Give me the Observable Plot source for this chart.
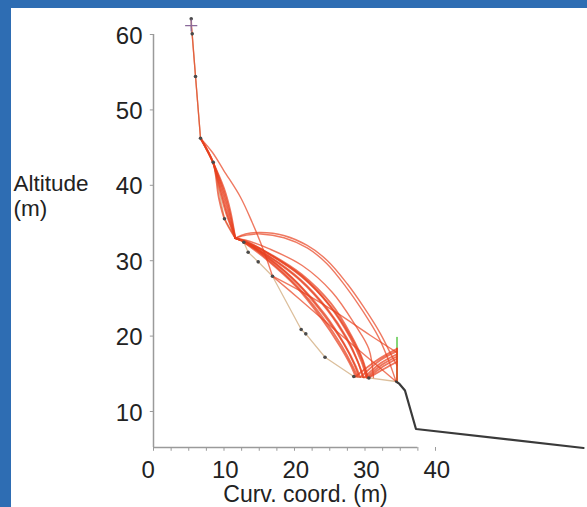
<!DOCTYPE html>
<html>
<head>
<meta charset="utf-8">
<script src="https://cdn.jsdelivr.net/npm/d3@7"></script>
<script src="https://cdn.jsdelivr.net/npm/@observablehq/plot@0.6"></script>
<style>
  html, body { margin: 0; padding: 0; background: #2e6db3; }
  #frame { position: absolute; left: 11px; top: 8px; width: 576px; height: 499px; background: #fff; overflow: hidden; }
</style>
</head>
<body>
<div id="frame"></div>
<script>
// ---- axis ticks ----
const xTicks = [0, 10, 20, 30, 40];
const xMinorTicks = [0, 2.5, 5, 7.5, 10, 12.5, 15, 17.5, 20, 22.5, 25, 27.5, 30, 32.5, 35, 37.5, 40];
const yTicks = [10, 20, 30, 40, 50, 60];
const xAxisExtent = [0, 37.5];
const yAxisExtent = [5.225, 60];

// ---- slope profile (curvilinear coordinate, altitude) ----
const terrainProfile = [
  [5.35, 62.08], [5.35, 61.19], [5.49, 60.09], [5.96, 54.43], [6.67, 46.25],
  [8.47, 43.06], [10.07, 35.56], [11.6, 33.0], [12.81, 32.45], [13.43, 31.13],
  [14.85, 29.85], [16.88, 27.94], [20.95, 20.88], [21.60, 20.30], [24.33, 17.20],
  [28.41, 14.64], [30.55, 14.45], [34.40, 13.98]
];
const profileNodes = [
  [5.35, 62.08], [5.49, 60.09], [5.96, 54.43], [6.67, 46.25], [8.47, 43.06],
  [10.07, 35.56], [12.81, 32.45], [13.43, 31.13], [14.85, 29.85], [16.88, 27.94],
  [20.95, 20.88], [21.60, 20.30], [24.33, 17.20], [28.41, 14.64], [30.55, 14.45]
];
const startMarker = [[5.35, 61.19]];
const lowerProfile = [[34.40, 13.98], [34.89, 13.65], [35.67, 12.79], [37.23, 7.68], [61.0, 5.16]];
const barrier = [[34.54, 13.98], [34.54, 19.81]];

// ---- rockfall trajectories ----
const trajTop1 = [[5.35, 62.08], [5.49, 60.09], [5.96, 54.43], [6.67, 46.25]];
const trajTop2 = [[5.35, 61.19], [5.52, 59.4], [5.99, 54.1], [6.67, 46.25]];
const wedge1 = [[6.67, 46.25], [8.47, 42.98], [9.26, 38.37], [10.07, 35.56], [11.6, 33.0]];
const wedge2 = [[6.67, 46.25], [8.47, 42.98], [9.45, 39.2], [10.3, 36.3], [11.6, 33.0]];
const wedge3 = [[6.67, 46.25], [8.47, 42.98], [9.7, 39.5], [10.6, 36.5], [11.6, 33.0]];
const wedge4 = [[6.67, 46.25], [8.47, 42.98], [10.0, 39.6], [10.9, 36.6], [11.6, 33.0]];
const wedge5 = [[8.47, 42.98], [9.8, 39.7], [10.75, 36.6], [11.6, 33.0]];
const wedge6 = [[8.47, 42.98], [9.55, 39.4], [10.45, 36.3], [11.6, 33.0]];
const longJump = [[6.67, 46.25], [8.37, 44.35], [9.97, 41.96], [12.34, 38.42], [14.0, 35.07], [15.18, 32.41], [16.03, 30.29], [16.88, 27.94]];
const arcHigh1 = [[11.6, 33.0], [13.05, 33.54], [15.18, 33.74], [18.48, 33.34], [21.8, 32.02], [24.64, 30.03], [27.48, 26.94], [29.83, 23.83], [32.2, 20.3], [33.62, 17.69], [34.54, 16.1]];
const arcHigh2 = [[11.6, 33.0], [13.2, 33.4], [15.2, 33.55], [18.5, 33.05], [21.8, 31.7], [24.6, 29.6], [27.4, 26.4], [29.7, 23.3], [31.9, 19.9], [33.3, 16.9], [34.4, 13.98]];
const bundle1 = [[11.6, 33.0], [13.0, 32.75], [16.35, 31.6], [21.09, 29.36], [25.35, 25.82], [28.65, 21.41], [30.54, 18.31], [31.2, 14.5]];
const bundle2 = [[11.6, 33.0], [13.0, 32.55], [16.35, 31.0], [21.0, 28.2], [25.2, 24.3], [28.1, 20.0], [29.7, 16.8], [30.4, 14.5]];
const bundle3 = [[11.6, 33.0], [13.0, 32.5], [16.35, 30.9], [21.0, 28.0], [25.0, 24.0], [27.9, 19.8], [29.5, 16.6], [30.2, 14.5]];
const bundle4 = [[11.6, 33.0], [13.05, 32.45], [16.3, 30.6], [20.8, 27.4], [24.7, 23.4], [27.5, 19.4], [29.1, 16.3], [29.8, 14.52]];
const bundle5 = [[11.6, 33.0], [13.05, 32.45], [16.3, 30.4], [20.6, 26.9], [24.3, 22.9], [27.1, 18.9], [28.7, 16.0], [29.3, 14.56]];
const bundle6 = [[11.6, 33.0], [13.05, 32.45], [16.2, 30.2], [20.4, 26.6], [23.9, 22.6], [26.7, 18.7], [28.3, 15.9], [28.9, 14.6]];
const bundle7 = [[12.81, 32.45], [16.0, 30.2], [20.3, 26.5], [23.7, 22.5], [26.5, 18.6], [28.1, 15.9], [28.65, 14.64]];
const bundle8 = [[12.81, 32.45], [16.2, 30.4], [20.5, 26.9], [24.0, 23.0], [26.9, 19.1], [28.5, 16.2], [29.1, 14.6]];
const bundle9 = [[12.81, 32.45], [16.4, 30.6], [20.85, 27.5], [24.6, 23.7], [27.4, 19.8], [29.0, 16.6], [29.7, 14.55]];
const bundle10 = [[11.6, 33.0], [13.1, 32.6], [16.4, 30.9], [21.0, 27.9], [25.1, 24.0], [28.0, 19.9], [29.6, 16.8], [30.3, 14.5]];
const bounceToVertex = [[16.88, 27.94], [20.85, 24.8], [25.11, 21.34], [29.36, 17.96], [34.4, 13.98]];
const bounceToBarrier = [[16.88, 27.94], [21.13, 25.82], [25.85, 23.17], [30.78, 20.08], [34.54, 17.82]];
const rebound1 = [[28.65, 14.64], [31.7, 16.8], [34.54, 18.3]];
const rebound2 = [[29.4, 14.58], [32.0, 16.7], [34.54, 18.0]];
const rebound3 = [[29.9, 14.52], [32.2, 16.4], [34.54, 17.6]];
const rebound4 = [[30.21, 14.51], [32.4, 16.2], [34.54, 17.3]];
const rebound5 = [[30.45, 14.5], [32.6, 16.0], [34.54, 17.0]];
const rebound6 = [[30.6, 14.5], [32.8, 15.7], [34.54, 16.6]];
const barrierImpact = [[34.54, 18.36], [34.54, 13.98]];

const topTrajectories = [trajTop1, trajTop2];
const denseTrajectories = [
  wedge1, wedge2, wedge3, wedge4, wedge5, wedge6,
  bundle2, bundle3, bundle4, bundle5, bundle6, bundle7, bundle8, bundle9, bundle10,
  rebound1, rebound2, rebound3, rebound4, rebound5, rebound6
];
const sparseTrajectories = [longJump, arcHigh1, arcHigh2, bundle1, bounceToVertex, bounceToBarrier];
const toRows = list => list.flatMap((t, i) => t.map(([x, y]) => ({x, y, id: i})));

const font = "'Liberation Sans', Arial, Helvetica, sans-serif";
const ink = "#222";
const red = "#e8401e";

const chart = Plot.plot({
  width: 576,
  height: 499,
  marginLeft: 142,
  marginRight: 0,
  marginTop: 0,
  marginBottom: 60,
  style: {background: "white", fontFamily: font, overflow: "visible"},
  x: {domain: [0, 61.56], axis: null},
  y: {domain: [5.225, 63.45], axis: null},
  marks: [
    // axes
    Plot.ruleX([0], {y1: yAxisExtent[0], y2: yAxisExtent[1], stroke: "#9a9a9a", strokeWidth: 1.5}),
    Plot.ruleY([yAxisExtent[0]], {x1: xAxisExtent[0], x2: xAxisExtent[1], stroke: "#9a9a9a", strokeWidth: 1.5}),
    Plot.ruleX(xMinorTicks, {x: d => d, y1: yAxisExtent[0], y2: yAxisExtent[0] - 0.5, stroke: "#9a9a9a", strokeWidth: 1}),
    Plot.ruleY(yTicks, {y: d => d, x1: 0, x2: -0.45, stroke: "#9a9a9a", strokeWidth: 1}),
    Plot.text(xTicks, {x: d => d, y: yAxisExtent[0], text: d => String(d), textAnchor: "start", lineAnchor: "bottom", dx: -12, dy: 30, fontSize: 24, fill: ink}),
    Plot.text(yTicks, {x: 0, y: d => d, text: d => String(d), textAnchor: "end", lineAnchor: "middle", dx: -11, dy: 1.5, fontSize: 24, fill: ink}),
    Plot.text(["Altitude\n(m)"], {frameAnchor: "top-left", textAnchor: "start", lineAnchor: "bottom", dx: -140, dy: 207, lineHeight: 1.1, fontSize: 22.5, fill: ink}),
    Plot.text(["Curv. coord. (m)"], {frameAnchor: "bottom", textAnchor: "middle", lineAnchor: "bottom", dx: -65, dy: 54, fontSize: 23, fill: ink}),
    // slope profile
    Plot.line(terrainProfile, {x: d => d[0], y: d => d[1], stroke: "#dcbf9c", strokeWidth: 1.3}),
    Plot.line(barrier, {x: d => d[0], y: d => d[1], stroke: "#66cc55", strokeWidth: 1.6}),
    // trajectories
    Plot.line(toRows(topTrajectories), {x: "x", y: "y", z: "id", stroke: red, strokeOpacity: 0.5, strokeWidth: 1.3}),
    Plot.line(toRows(sparseTrajectories), {x: "x", y: "y", z: "id", curve: "catmull-rom", stroke: red, strokeOpacity: 0.7, strokeWidth: 1.4}),
    Plot.line(toRows(denseTrajectories), {x: "x", y: "y", z: "id", curve: "catmull-rom", stroke: red, strokeOpacity: 0.72, strokeWidth: 1.8}),
    Plot.line(barrierImpact, {x: d => d[0], y: d => d[1], stroke: red, strokeOpacity: 0.9, strokeWidth: 1.8}),
    // nodes
    Plot.dot(profileNodes, {x: d => d[0], y: d => d[1], r: 1.8, fill: "#4a4a4a"}),
    Plot.dot(startMarker, {x: d => d[0], y: d => d[1], symbol: "plus", r: 4, stroke: "#8a6a9a", strokeWidth: 1.3}),
    Plot.line(lowerProfile, {x: d => d[0], y: d => d[1], stroke: "#3a3a3a", strokeWidth: 2.2})
  ]
});
document.getElementById("frame").appendChild(chart);
</script>
</body>
</html>
